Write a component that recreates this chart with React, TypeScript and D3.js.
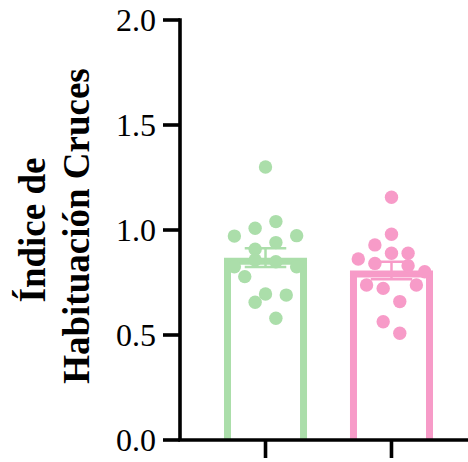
import React from "react";
import * as d3 from "d3";

// Groups, in plotting order
const groups = ["control", "tratado"];
const groupColors = ["#abdeaa", "#f79bc8"];

// Individual habituation indices per animal
const controlValues = [1.3, 1.04, 1.008, 0.971, 0.973, 0.94, 0.908, 0.857, 0.849, 0.825, 0.825, 0.778, 0.695, 0.69, 0.656, 0.58];
const tratadoValues = [1.156, 0.98, 0.929, 0.889, 0.889, 0.862, 0.841, 0.83, 0.801, 0.738, 0.722, 0.738, 0.659, 0.563, 0.508];

// Horizontal scatter of each point, as a fraction of the bar width
const controlJitter = [0, 0.125, -0.125, -0.375, 0.375, 0.125, -0.125, -0.125, 0.125, -0.375, 0.375, -0.25, 0, 0.25, -0.125, 0.125];
const tratadoJitter = [0, 0, -0.2, 0, 0.2, -0.4, -0.2, 0.2, 0.4, -0.3, -0.1, 0.3, 0.1, -0.1, 0.1];

const yTicks = [0, 0.5, 1.0, 1.5, 2.0];
const yTitleLines = ["Índice de", "Habituación Cruces"];

const W = 468;
const H = 462;
const AXIS_X = 180;
const AXIS_Y = 440;

export default function App() {
  const y = d3.scaleLinear().domain([0, 2]).range([AXIS_Y, 20]);
  const x = d3.scaleBand<string>().domain(groups).range([224, 433]).paddingInner(0.341).paddingOuter(0);
  const bw = x.bandwidth();
  const fmt = d3.format(".1f");
  const sw = 7;

  const series = [
    { key: groups[0], values: controlValues, jitter: controlJitter, color: groupColors[0] },
    { key: groups[1], values: tratadoValues, jitter: tratadoJitter, color: groupColors[1] },
  ];

  return (
    <div style={{ position: "fixed", left: 0, top: 0 }}>
      <svg width={W} height={H} style={{ display: "block", background: "#fff" }}>
        {series.map((s) => {
          const mean = d3.mean(s.values) as number;
          const sem = (d3.deviation(s.values) as number) / Math.sqrt(s.values.length);
          const x0 = x(s.key) as number;
          const cx = x0 + bw / 2;
          const top = y(mean) + sw / 2;
          const left = x0 + sw / 2;
          const right = x0 + bw - sw / 2;
          const barPath = d3.path();
          barPath.moveTo(left, AXIS_Y);
          barPath.lineTo(left, top);
          barPath.lineTo(right, top);
          barPath.lineTo(right, AXIS_Y);
          const capHalf = bw / 4;
          return (
            <g key={s.key}>
              <path d={barPath.toString()} fill="none" stroke={s.color} strokeWidth={sw} strokeLinejoin="miter" />
              {s.values.map((v, i) => (
                <circle key={i} cx={cx + s.jitter[i] * bw} cy={y(v)} r={6.7} fill={s.color} />
              ))}
              <g stroke={s.color} strokeWidth={2.5}>
                <line x1={cx} x2={cx} y1={y(mean + sem)} y2={y(mean - sem)} />
                <line x1={cx - capHalf} x2={cx + capHalf} y1={y(mean + sem)} y2={y(mean + sem)} />
                <line x1={cx - capHalf} x2={cx + capHalf} y1={y(mean - sem)} y2={y(mean - sem)} />
              </g>
            </g>
          );
        })}

        {/* y axis */}
        <g stroke="#000" strokeWidth={3.6}>
          <line x1={AXIS_X} x2={AXIS_X} y1={y(2) - 1.8} y2={AXIS_Y} />
          {yTicks.map((t) => (
            <line key={t} x1={AXIS_X - 17} x2={AXIS_X} y1={y(t)} y2={y(t)} />
          ))}
        </g>
        <g fontFamily="'Liberation Serif', 'Times New Roman', serif" fontSize={32} textAnchor="end" fill="#000">
          {yTicks.map((t) => (
            <text key={t} x={156} y={y(t)} dy="0.34em">
              {fmt(t)}
            </text>
          ))}
        </g>

        {/* x axis */}
        <g stroke="#000" strokeWidth={3.6}>
          <line x1={AXIS_X - 1.8} x2={W} y1={AXIS_Y} y2={AXIS_Y} />
          {groups.map((g) => (
            <line key={g} x1={(x(g) as number) + bw / 2} x2={(x(g) as number) + bw / 2} y1={AXIS_Y} y2={AXIS_Y + 18} />
          ))}
        </g>

        {/* y axis title */}
        <g
          fontFamily="'Liberation Serif', 'Times New Roman', serif"
          fontWeight="bold"
          fontSize={37}
          textAnchor="middle"
          fill="#000"
        >
          <text transform={`translate(45,230) rotate(-90)`}>{yTitleLines[0]}</text>
          <text transform={`translate(89,226) rotate(-90)`}>{yTitleLines[1]}</text>
        </g>
      </svg>
    </div>
  );
}
